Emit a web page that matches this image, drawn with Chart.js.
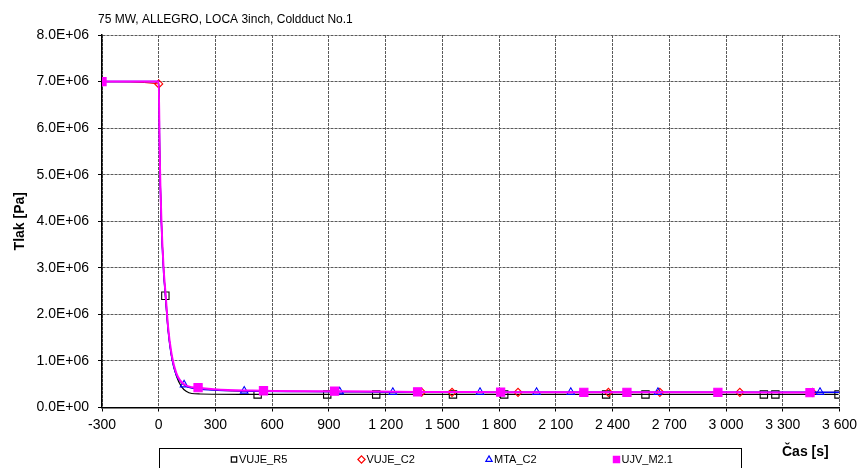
<!DOCTYPE html>
<html>
<head>
<meta charset="utf-8">
<script src="https://cdn.jsdelivr.net/npm/chart.js@4/dist/chart.umd.min.js"></script>
<style>
  body { margin: 0; background: #fff; }
  #wrap { width: 862px; height: 468px; overflow: hidden; }
</style>
</head>
<body>
<div id="wrap"><canvas id="myCanvas" width="862" height="468"></canvas></div>
<script>
let chartTitle = "75 MW, ALLEGRO, LOCA 3inch, Coldduct No.1";
let xTitle = "Čas [s]";
let yTitle = "Tlak [Pa]";

// VUJE_R5 (black, open squares)
let r5Time = [-300, 0, 5, 14, 26, 35, 50, 70, 95, 120, 145, 175, 220, 523, 891, 1150, 1556, 1827, 2366, 2574, 3200, 3261, 3595];
let r5Tlak = [7.0e6, 7.0e6, 5.5e6, 4.0e6, 2.95e6, 2.4e6, 1.65e6, 1.05e6, 0.66e6, 0.45e6, 0.35e6, 0.30e6, 0.29e6, 0.28e6, 0.28e6, 0.28e6, 0.28e6, 0.28e6, 0.28e6, 0.28e6, 0.28e6, 0.28e6, 0.28e6];
let r5Marks = [5, 13, 14, 15, 16, 17, 18, 19, 20, 21, 22];

// VUJE_C2 (red, open diamonds)
let c2Time = [-300, 0, 5, 14, 26, 37, 49, 67, 93, 134, 207, 450, 950, 1390, 1551, 1900, 2378, 2650, 3073, 3456, 3600];
let c2Tlak = [7.0e6, 6.95e6, 5.45e6, 4.0e6, 2.95e6, 2.37e6, 1.72e6, 1.15e6, 0.72e6, 0.48e6, 0.41e6, 0.35e6, 0.34e6, 0.33e6, 0.325e6, 0.325e6, 0.325e6, 0.325e6, 0.325e6, 0.325e6, 0.325e6];
let c2Marks = [1, 13, 14, 15, 16, 17, 18, 19];

// MTA_C2 (blue, open triangles)
let mtaTime = [-300, 0, 5, 14, 26, 37, 49, 67, 93, 134, 200, 452, 957, 1238, 1699, 1998, 2179, 2640, 3497, 3600];
let mtaTlak = [7.0e6, 7.0e6, 5.4e6, 3.95e6, 2.9e6, 2.35e6, 1.7e6, 1.12e6, 0.7e6, 0.49e6, 0.4e6, 0.355e6, 0.34e6, 0.33e6, 0.33e6, 0.33e6, 0.33e6, 0.33e6, 0.33e6, 0.33e6];
let mtaMarks = [9, 11, 12, 13, 14, 15, 16, 17, 18];

// UJV_M2.1 (magenta, filled squares)
let ujvTime = [-300, 0, 5, 14, 26, 37, 49, 67, 93, 134, 208, 554, 930, 1369, 1808, 2248, 2476, 2957, 3444];
let ujvTlak = [7.0e6, 7.0e6, 5.5e6, 4.05e6, 2.98e6, 2.4e6, 1.75e6, 1.17e6, 0.74e6, 0.5e6, 0.425e6, 0.36e6, 0.35e6, 0.335e6, 0.33e6, 0.325e6, 0.325e6, 0.325e6, 0.32e6];
let ujvMarks = [0, 10, 11, 12, 13, 14, 15, 16, 17, 18];

let xTicks = { min: -300, max: 3600, step: 300 };
let yTicks = { min: 0, max: 8e6, step: 1e6 };

let toPoints = (t, p) => t.map((v, i) => ({ x: v, y: p[i] }));

let serie = (label, t, p, marks, color, style, radius, legendRadius, fill, width, order) => ({
    label: label,
    data: toPoints(t, p),
    borderColor: color,
    borderWidth: width,
    pointStyle: style,
    pointRadius: (ctx) => marks.includes(ctx.dataIndex) ? radius : 0,
    pointBorderColor: color,
    pointBackgroundColor: fill,
    pointBorderWidth: 1.1,
    legendRadius: legendRadius,
    showLine: true,
    fill: false,
    cubicInterpolationMode: 'monotone',
    order: order
});

let fmtY = (v) => {
    let s = Number(v).toExponential(1).toUpperCase();
    let parts = s.split('E');
    let sign = parts[1][0];
    let exp = parts[1].slice(1).padStart(2, '0');
    return parts[0] + 'E' + sign + exp;
};

let fmtX = (v) => {
    let s = Math.abs(v).toString();
    if (s.length > 3) s = s.slice(0, -3) + ' ' + s.slice(-3);
    return (v < 0 ? '-' : '') + s;
};

// title, x label and the boxed legend
let extraText = {
    id: 'extraText',
    afterDraw(chart) {
        let ctx = chart.ctx;
        ctx.save();
        ctx.fillStyle = '#000';
        ctx.font = '12px Arial, "Liberation Sans"';
        ctx.textBaseline = 'alphabetic';
        ctx.textAlign = 'left';
        ctx.fillText(chartTitle, 98, 23);

        ctx.font = 'bold 14px Arial, "Liberation Sans"';
        ctx.fillText(xTitle, 782, 456);

        ctx.strokeStyle = '#000';
        ctx.lineWidth = 1;
        ctx.strokeRect(159.5, 448.5, 582, 30);

        ctx.font = '11px Arial, "Liberation Sans"';
        ctx.textBaseline = 'middle';
        chart.data.datasets.forEach((ds, i) => {
            let x = 234 + i * 127.5;
            let y = 459.5;
            ctx.fillStyle = ds.pointBackgroundColor;
            ctx.strokeStyle = ds.pointBorderColor;
            ctx.lineWidth = 1.2;
            Chart.helpers.drawPoint(ctx, { pointStyle: ds.pointStyle, radius: ds.legendRadius, borderWidth: 1.2, rotation: 0 }, x, y);
            ctx.fillStyle = '#000';
            ctx.fillText(ds.label, x + 5, y);
        });
        ctx.restore();
    }
};

let grafica = document.getElementById('myCanvas').getContext('2d');

let myChart = new Chart(grafica, {
    type: 'scatter',
    data: {
        datasets: [
            serie('VUJE_R5', r5Time, r5Tlak, r5Marks, '#000000', 'rect', 5.2, 3.8, 'rgba(0,0,0,0)', 1.2, 4),
            serie('VUJE_C2', c2Time, c2Tlak, c2Marks, '#ff0000', 'rectRot', 4, 3.6, 'rgba(0,0,0,0)', 1, 3),
            serie('MTA_C2', mtaTime, mtaTlak, mtaMarks, '#0000ff', 'triangle', 4.4, 3.6, 'rgba(0,0,0,0)', 1.5, 2),
            serie('UJV_M2.1', ujvTime, ujvTlak, ujvMarks, '#ff00ff', 'rect', 5.8, 4.4, '#ff00ff', 2, 1)
        ]
    },
    options: {
        responsive: false,
        animation: false,
        events: [],
        layout: { padding: { top: 35, right: 20, bottom: 0, left: 0 } },
        plugins: {
            legend: { display: false },
            tooltip: { enabled: false }
        },
        scales: {
            x: {
                type: 'linear',
                min: xTicks.min,
                max: xTicks.max,
                afterFit: (scale) => { scale.height = 60.5; },
                ticks: {
                    stepSize: xTicks.step,
                    color: '#000',
                    padding: 5,
                    maxRotation: 0,
                    autoSkip: false,
                    font: { family: 'Arial, "Liberation Sans"', size: 14 },
                    callback: (v) => fmtX(v)
                },
                grid: { color: '#5a5a5a', lineWidth: 1, tickLength: 4, tickColor: '#000' },
                border: { color: '#000', width: 1.5, dash: [3, 1] }
            },
            y: {
                type: 'linear',
                min: yTicks.min,
                max: yTicks.max,
                afterFit: (scale) => { scale.width = 102; },
                ticks: {
                    stepSize: yTicks.step,
                    color: '#000',
                    padding: 9,
                    font: { family: 'Arial, "Liberation Sans"', size: 14 },
                    callback: (v) => fmtY(v)
                },
                title: {
                    display: true,
                    text: yTitle,
                    color: '#000',
                    padding: { top: 12, bottom: 0 },
                    font: { family: 'Arial, "Liberation Sans"', size: 14, weight: 'bold' }
                },
                grid: { color: '#5a5a5a', lineWidth: 1, tickLength: 4, tickColor: '#000' },
                border: { color: '#000', width: 1.5, dash: [3, 1] }
            }
        }
    },
    plugins: [extraText]
});
</script>
</body>
</html>
